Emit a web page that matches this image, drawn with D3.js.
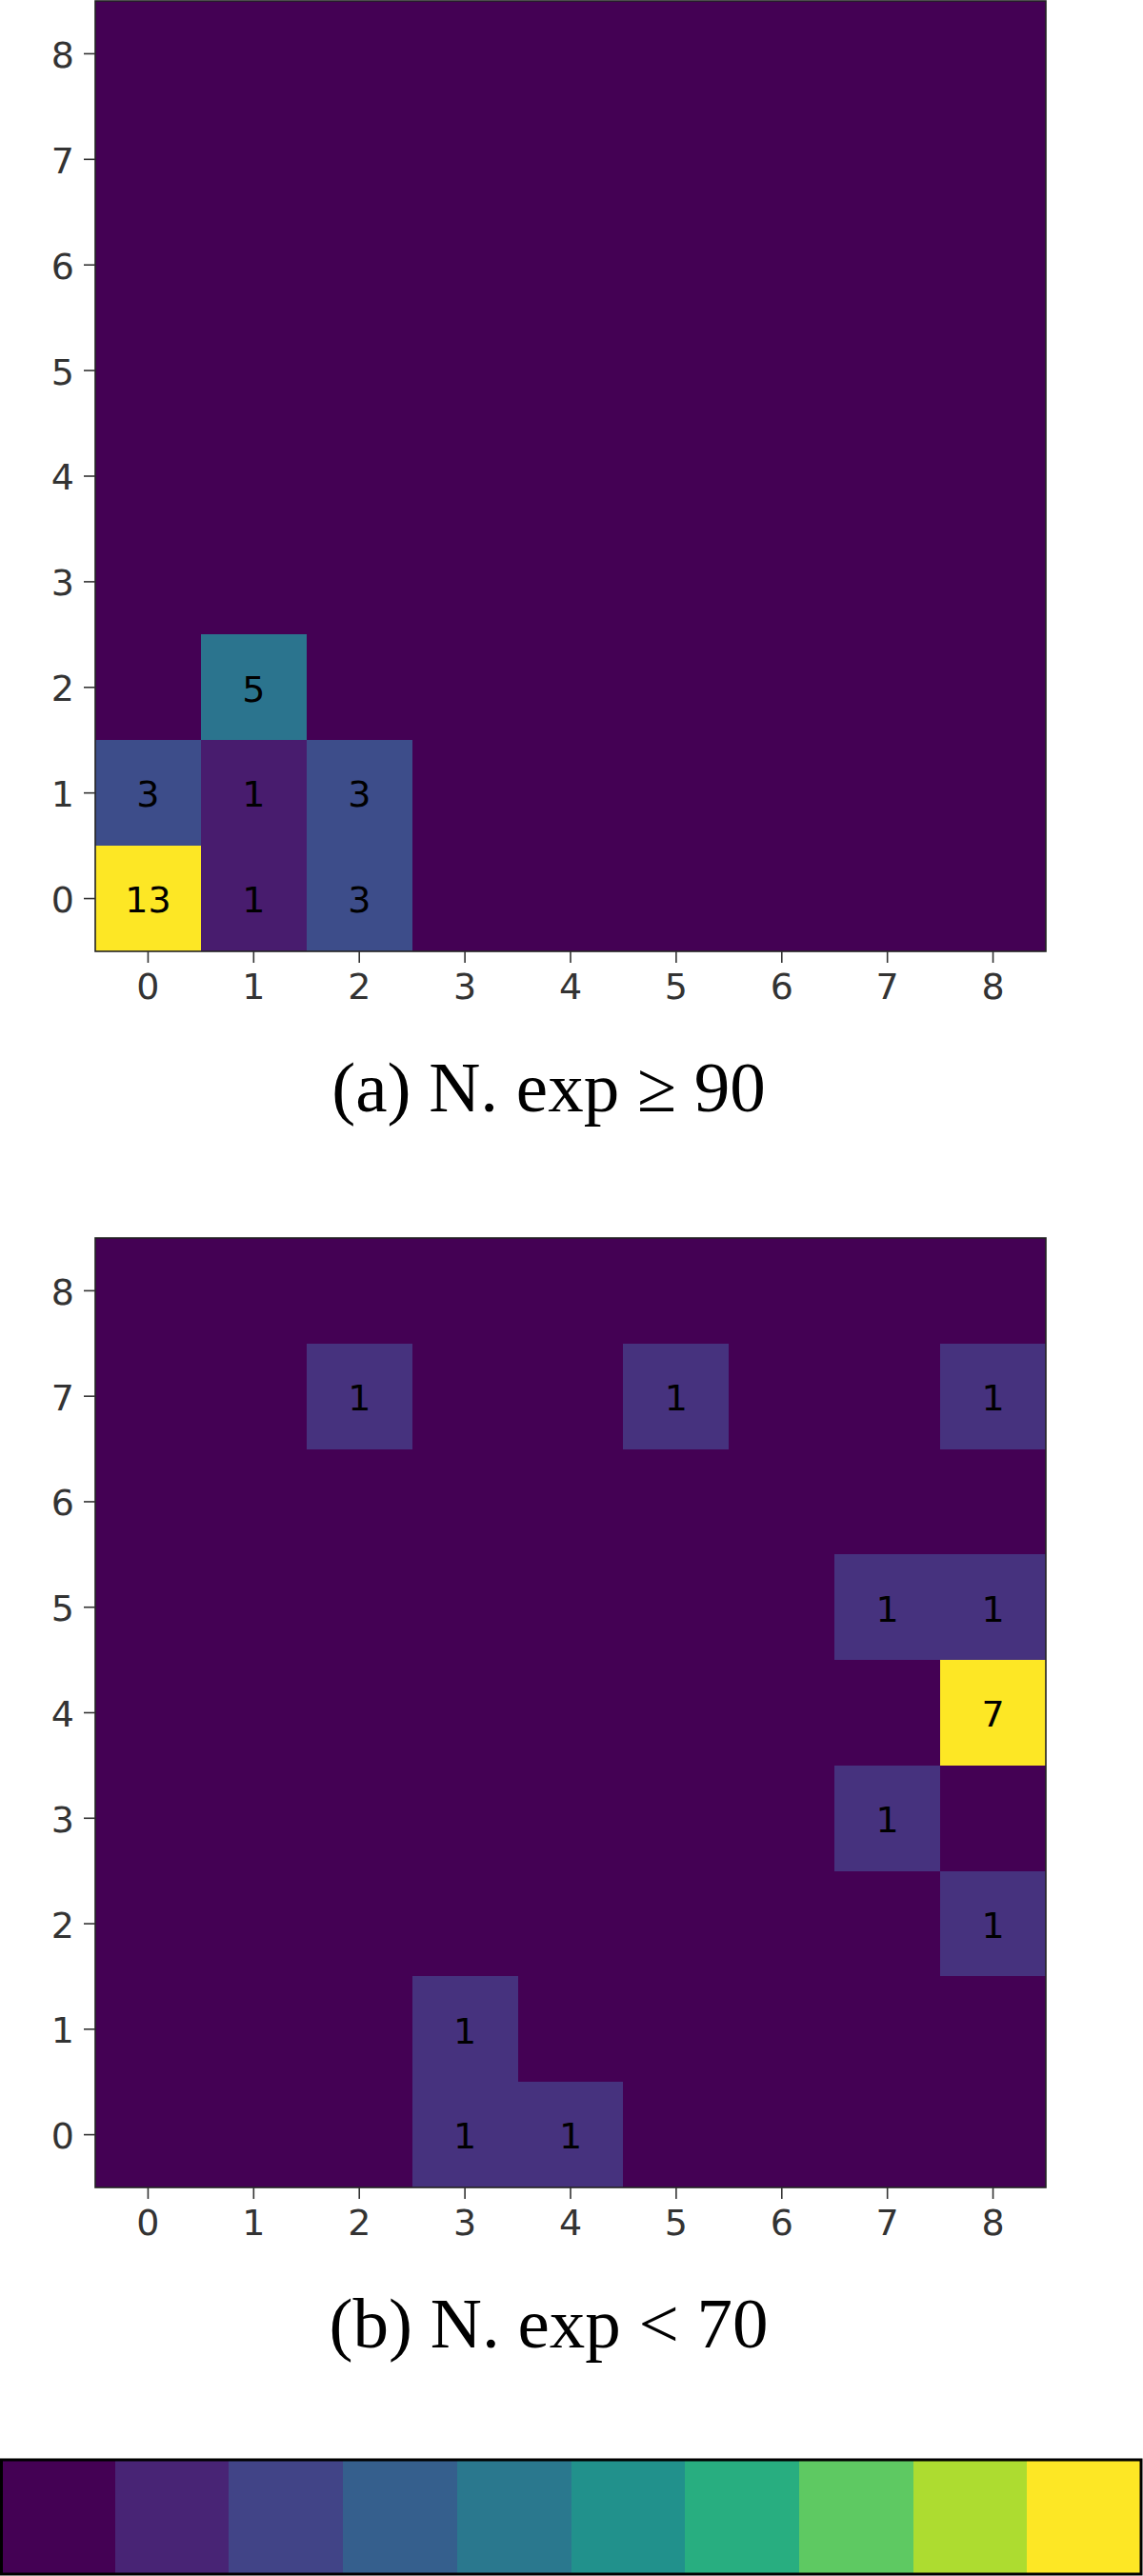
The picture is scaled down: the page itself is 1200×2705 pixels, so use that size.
<!DOCTYPE html>
<html>
<head>
<meta charset="utf-8">
<script src="https://cdn.jsdelivr.net/npm/d3@7"></script>
<style>
  body { margin: 0; background: #fff; }
  .tick text { font-family: "DejaVu Sans", sans-serif; fill: #333; }
  .tick line { stroke: #333; }
  rect.cell, rect.swatch { shape-rendering: crispEdges; }
</style>
</head>
<body>
<script>
const w = 1200;
const h = 2705;

const bins = [0, 1, 2, 3, 4, 5, 6, 7, 8];
const tickLabels = ["0", "1", "2", "3", "4", "5", "6", "7", "8"];

// non-zero cells [x, y, count]; every other cell is 0
const cellsHigh = [[0, 0, 13], [1, 0, 1], [2, 0, 3], [0, 1, 3], [1, 1, 1], [2, 1, 3], [1, 2, 5]];
const cellsLow = [[3, 0, 1], [4, 0, 1], [3, 1, 1], [8, 2, 1], [7, 3, 1], [8, 4, 7], [7, 5, 1], [8, 5, 1], [2, 7, 1], [5, 7, 1], [8, 7, 1]];

const captions = ["(a) N. exp \u2265 90", "(b) N. exp < 70"];

// where the 10 colorbar swatches sit on viridis
const barStops = [0, 0.1, 0.2, 0.3, 0.4, 0.5, 0.625, 0.75, 0.875, 1];

const fontSize = 38;
const left = 100, right = 1098;

const svg = d3.select("body")
  .append("svg")
  .attr("width", w)
  .attr("height", h);

const xScale = d3.scaleBand().domain(bins).range([left, right]);

function drawPanel(cells, top, bottom, caption) {
  const yScale = d3.scaleBand().domain(bins.slice().reverse()).range([top, bottom]);
  const maxVal = d3.max(cells, d => d[2]);
  const color = d3.scaleSequential(d3.interpolateViridis).domain([0, maxVal]);

  const lookup = new Map(cells.map(d => [d[0] + ":" + d[1], d[2]]));
  const grid = [];
  bins.forEach(yy => bins.forEach(xx => {
    grid.push({ x: xx, y: yy, v: lookup.get(xx + ":" + yy) || 0 });
  }));

  const g = svg.append("g");

  // background in the zero colour so no seams show between cells
  g.append("rect")
    .attr("class", "cell")
    .attr("x", left)
    .attr("y", top)
    .attr("width", right - left)
    .attr("height", bottom - top)
    .attr("fill", color(0));

  g.selectAll("rect.val")
    .data(grid.filter(d => d.v > 0))
    .enter()
    .append("rect")
    .attr("class", "cell")
    .attr("x", d => xScale(d.x))
    .attr("y", d => yScale(d.y))
    .attr("width", xScale.bandwidth())
    .attr("height", yScale.bandwidth())
    .attr("fill", d => color(d.v));

  g.selectAll("text.val")
    .data(grid.filter(d => d.v > 0))
    .enter()
    .append("text")
    .attr("class", "val")
    .attr("x", d => xScale(d.x) + xScale.bandwidth() / 2)
    .attr("y", d => yScale(d.y) + yScale.bandwidth() / 2 + fontSize * 0.364 + 1)
    .attr("text-anchor", "middle")
    .style("font-family", "DejaVu Sans, sans-serif")
    .style("font-size", fontSize + "px")
    .style("fill", "#000")
    .text(d => d.v);

  // frame
  g.append("rect")
    .attr("x", left)
    .attr("y", top)
    .attr("width", right - left)
    .attr("height", bottom - top)
    .attr("fill", "none")
    .attr("stroke", "#222")
    .attr("stroke-width", 1.6);

  const xAxis = d3.axisBottom(xScale).tickSize(12).tickPadding(9).tickFormat((d, i) => tickLabels[i]);
  const yAxis = d3.axisLeft(yScale).tickSize(12).tickPadding(10).tickFormat(d => tickLabels[d]);

  const gx = g.append("g").attr("transform", `translate(0, ${bottom})`).call(xAxis);
  const gy = g.append("g").attr("transform", `translate(${left}, 0)`).call(yAxis);
  [gx, gy].forEach(a => {
    a.select(".domain").remove();
    a.selectAll(".tick line").attr("stroke-width", 1.6);
    a.selectAll(".tick text").style("font-size", fontSize + "px");
  });
  gy.selectAll(".tick text").attr("dy", "0.38em");
  gx.selectAll(".tick text").attr("dy", "0.76em");

  svg.append("text")
    .attr("x", 576)
    .attr("y", bottom + 168)
    .attr("text-anchor", "middle")
    .style("font-family", "Liberation Serif, Times New Roman, serif")
    .style("font-size", "75px")
    .style("fill", "#000")
    .text(caption);
}

drawPanel(cellsHigh, 1, 999, captions[0]);
drawPanel(cellsLow, 1300, 2297, captions[1]);

// colorbar
const barScale = d3.scaleBand().domain(d3.range(barStops.length)).range([1, 1198]);
const barTop = 2583, barBottom = 2703;

svg.selectAll("rect.swatch")
  .data(barStops)
  .enter()
  .append("rect")
  .attr("class", "swatch")
  .attr("x", (d, i) => barScale(i))
  .attr("y", barTop)
  .attr("width", barScale.bandwidth() + 0.5)
  .attr("height", barBottom - barTop)
  .attr("fill", d => d3.interpolateViridis(d));

svg.append("rect")
  .attr("x", 1.5)
  .attr("y", barTop)
  .attr("width", 1196.5)
  .attr("height", barBottom - barTop)
  .attr("fill", "none")
  .attr("stroke", "#000")
  .attr("stroke-width", 3);
</script>
</body>
</html>
